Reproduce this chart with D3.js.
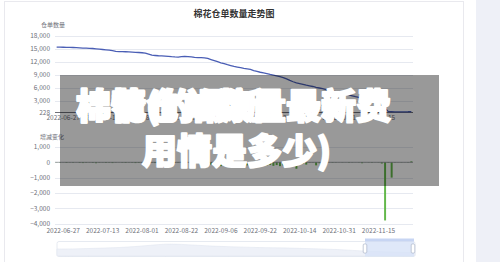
<!DOCTYPE html>
<html><head><meta charset="utf-8">
<script src="https://cdn.jsdelivr.net/npm/d3@7/dist/d3.min.js"></script>
<style>html,body{margin:0;padding:0;background:#fff;}svg{display:block;}</style>
</head><body>
<svg id="c" width="500" height="262"></svg>
<script>
const titleText = "棉花仓单数量走势图";
const topAxisName = "仓单数量";
const bottomAxisName = "增减变化";
const dates = [
 "2022-06-23","2022-06-24","2022-06-27",
 "2022-06-28","2022-06-29","2022-06-30","2022-07-01","2022-07-04","2022-07-05","2022-07-06","2022-07-07","2022-07-08","2022-07-11","2022-07-12","2022-07-13",
 "2022-07-14","2022-07-15","2022-07-18","2022-07-19","2022-07-20","2022-07-21","2022-07-25","2022-07-26","2022-07-27","2022-07-28","2022-07-29","2022-08-01",
 "2022-08-02","2022-08-03","2022-08-04","2022-08-08","2022-08-09","2022-08-10","2022-08-11","2022-08-15","2022-08-16","2022-08-17","2022-08-18","2022-08-22",
 "2022-08-23","2022-08-24","2022-08-25","2022-08-26","2022-08-29","2022-08-30","2022-08-31","2022-09-01","2022-09-02","2022-09-03","2022-09-05","2022-09-06",
 "2022-09-07","2022-09-08","2022-09-09","2022-09-12","2022-09-13","2022-09-14","2022-09-15","2022-09-16","2022-09-19","2022-09-20","2022-09-21","2022-09-22",
 "2022-09-23","2022-09-26","2022-09-27","2022-09-28","2022-09-29","2022-09-30","2022-10-08","2022-10-10","2022-10-11","2022-10-12","2022-10-13","2022-10-14",
 "2022-10-17","2022-10-18","2022-10-19","2022-10-20","2022-10-21","2022-10-24","2022-10-25","2022-10-26","2022-10-27","2022-10-28","2022-10-29","2022-10-31",
 "2022-11-01","2022-11-02","2022-11-03","2022-11-04","2022-11-07","2022-11-08","2022-11-09","2022-11-10","2022-11-11","2022-11-12","2022-11-14","2022-11-15",
 "2022-11-16","2022-11-17","2022-11-18","2022-11-21","2022-11-22","2022-11-23","2022-11-24","2022-11-25","2022-11-28","2022-11-29"
];
const xTickLabels = ["2022-06-27","2022-07-13","2022-08-01","2022-08-22","2022-09-06","2022-09-22","2022-10-14","2022-10-31","2022-11-15"];
const warehouseReceipts = [
 15420,15400,15390,
 15370,15350,15330,15300,15260,15210,15180,15150,15100,15020,14950,14870,
 14800,14720,14600,14450,14400,14380,14350,14300,14260,14220,14180,14120,
 14050,13800,13550,13480,13420,13380,13330,13280,13200,13150,13120,13200,
 13260,13220,13150,13050,13000,12980,12950,12800,12550,12300,12050,11800,
 11600,11350,11150,10950,10800,10650,10500,10380,10250,10000,9800,9600,
 9450,9300,9100,8950,8780,8600,8350,8050,7700,7400,7150,6980,
 6800,6600,6450,6300,6100,5950,5780,5600,5420,5250,5100,4900,
 4700,4520,4350,4150,3950,3780,3600,3400,3200,3000,2800,2650,
 2450,1300,480,450,430,420,430,440,450,480
];
const dailyChange = [
 -20,-30,-10,
 -40,-20,-30,-10,-40,-50,-30,-20,-40,-60,-30,-20,
 -40,-30,-50,-20,-10,-30,-40,-20,-30,-50,-40,-20,
 -30,-40,-20,-50,-30,-20,-10,-20,-30,-40,-20,30,
 20,-10,-20,-30,-20,-10,-30,-60,-150,-200,-180,-250,
 -200,-150,-220,-180,-250,-150,-120,-200,-130,-180,-250,-200,
 -150,-200,-170,-230,-180,-250,-200,-150,-300,-220,-420,-120,
 -80,-150,-30,-20,-200,-60,-30,-20,-10,-30,-20,-10,
 -20,-10,-30,-20,-10,-20,-60,-10,-20,-30,-10,-20,
 -80,-3800,-30,-1000,-20,-10,-20,-10,20,60
];
const topTicks = [228,3000,6000,9000,12000,15000,18000];
const bottomTicks = [-4000,-3000,-2000,-1000,0,1000];
// overview (dataZoom shadow) of the longer history
const overviewValues = [30,30,32,34,36,40,46,52,50,46,42,40,38,36,35,34,32,30,28,24,20,18,16,15];
const overlayLine1a = "棉花仓单数量最新费";
const overlayLine1b = "棉情(的最新";
const overlayLine2 = "用情是多少)";

const svg = d3.select("#c");
const FONT = "'Noto Sans CJK SC','Noto Sans',sans-serif";

// page background pieces
svg.append("rect").attr("x",476).attr("y",0).attr("width",24).attr("height",262).attr("fill","#eef0f7");
svg.append("rect").attr("x",4.5).attr("y",1.5).attr("width",459).attr("height",270)
  .attr("fill","#fff").attr("stroke","#e9e9ee").attr("stroke-width",1);

svg.append("text").attr("x",234).attr("y",17).attr("text-anchor","middle")
  .attr("font-family",FONT).attr("font-size",9).attr("font-weight","bold").attr("fill","#333").text(titleText);

const x = d3.scaleBand().domain(dates).range([55,413]).paddingInner(0.4).paddingOuter(0.2);
const cx = d => x(d) + x.bandwidth()/2;

// ---------- top chart ----------
const yTop = d3.scaleLinear().domain([228,18000]).range([112.7,36]);
const gTop = svg.append("g");
gTop.selectAll("line.grid").data(topTicks.slice(1)).join("line")
  .attr("x1",55).attr("x2",413).attr("y1",d=>Math.round(yTop(d))+0.5).attr("y2",d=>Math.round(yTop(d))+0.5)
  .attr("stroke","#e6e9f0").attr("stroke-width",1);
gTop.selectAll("text.yl").data(topTicks).join("text")
  .attr("x",50).attr("y",d=>yTop(d)+2.3).attr("text-anchor","end")
  .attr("font-family",FONT).attr("font-size",6.5).attr("fill","#6e7079")
  .text(d=>d3.format(",")(d));
gTop.append("text").attr("x",53).attr("y",27).attr("text-anchor","middle")
  .attr("font-family",FONT).attr("font-size",6).attr("fill","#6e7079").text(topAxisName);
gTop.append("line").attr("x1",55).attr("x2",413).attr("y1",112.5).attr("y2",112.5).attr("stroke","#6e7079").attr("stroke-width",1);
gTop.selectAll("text.xl").data(xTickLabels).join("text")
  .attr("x",d=>cx(d)).attr("y",119.5).attr("text-anchor","middle")
  .attr("font-family",FONT).attr("font-size",6.5).attr("fill","#6e7079").text(d=>d);
const line = d3.line().x((d,i)=>cx(dates[i])).y(d=>yTop(d));
gTop.append("path").datum(warehouseReceipts).attr("d",line)
  .attr("fill","none").attr("stroke","#4a5eb5").attr("stroke-width",1.3).attr("stroke-linejoin","round");

// ---------- bottom chart ----------
const yBot = d3.scaleLinear().domain([-4000,1000]).range([223.5,147]);
const gBot = svg.append("g");
gBot.selectAll("line.grid").data(bottomTicks.filter(d=>d!==0)).join("line")
  .attr("x1",55).attr("x2",413).attr("y1",d=>Math.round(yBot(d))+0.5).attr("y2",d=>Math.round(yBot(d))+0.5)
  .attr("stroke","#e6e9f0").attr("stroke-width",1);
gBot.selectAll("text.yl").data(bottomTicks).join("text")
  .attr("x",50).attr("y",d=>yBot(d)+2.3).attr("text-anchor","end")
  .attr("font-family",FONT).attr("font-size",6.5).attr("fill","#6e7079")
  .text(d=>d3.format(",")(d));
gBot.append("text").attr("x",52).attr("y",139).attr("text-anchor","middle")
  .attr("font-family",FONT).attr("font-size",6).attr("fill","#6e7079").text(bottomAxisName);
gBot.selectAll("text.xl").data(xTickLabels).join("text")
  .attr("x",d=>cx(d)).attr("y",233).attr("text-anchor","middle")
  .attr("font-family",FONT).attr("font-size",6.5).attr("fill","#6e7079").text(d=>d);
gBot.selectAll("rect.bar").data(dailyChange).join("rect")
  .attr("x",(d,i)=>x(dates[i])).attr("width",x.bandwidth())
  .attr("y",d=>Math.min(yBot(d),yBot(0))).attr("height",d=>Math.abs(yBot(d)-yBot(0)))
  .attr("fill","#63b84a");
gBot.append("line").attr("x1",55).attr("x2",413).attr("y1",yBot(0)).attr("y2",yBot(0)).attr("stroke","#8a8d96").attr("stroke-width",0.8);

// ---------- data zoom slider ----------
const gz = svg.append("g");
const zx = d3.scaleLinear().domain([0,overviewValues.length-1]).range([57,415]);
const zy = d3.scaleLinear().domain([0,60]).range([256,242]);
gz.append("rect").attr("x",57).attr("y",241.5).attr("width",358).attr("height",15).attr("rx",2)
  .attr("fill","#fff").attr("stroke","#dfe4ee").attr("stroke-width",0.8);
gz.append("path").datum(overviewValues)
  .attr("d",d3.area().x((d,i)=>zx(i)).y0(256).y1(d=>zy(d)).curve(d3.curveBasis))
  .attr("fill","#eef1f8").attr("stroke","#e1e6f0").attr("stroke-width",0.6);
gz.append("rect").attr("x",365).attr("y",241.5).attr("width",49).attr("height",15)
  .attr("fill","#d7e2f8").attr("fill-opacity",0.8);
gz.append("rect").attr("x",365).attr("y",238.5).attr("width",49).attr("height",3)
  .attr("fill","#c7d5f3");
[365,413].forEach(hx=>{
  gz.append("rect").attr("x",hx-1.8).attr("y",244).attr("width",3.6).attr("height",9).attr("rx",1)
    .attr("fill","#fff").attr("stroke","#aab4c8").attr("stroke-width",0.7);
});

// ---------- overlay ----------
const go = svg.append("g");
go.append("rect").attr("x",60).attr("y",75).attr("width",379).attr("height",111).attr("fill","#000").attr("fill-opacity",0.4);
const ot = (txt,xx,yy)=>go.append("text").attr("x",xx).attr("y",yy)
  .attr("font-family",FONT).attr("font-size",35).attr("font-weight",900).attr("fill","#fff")
  .attr("stroke","#fff").attr("stroke-width",2).attr("stroke-linejoin","round").text(txt);
ot(overlayLine1a,76,119);
ot(overlayLine1b,76,119);
ot(overlayLine2,142,164);
</script>
</body></html>
